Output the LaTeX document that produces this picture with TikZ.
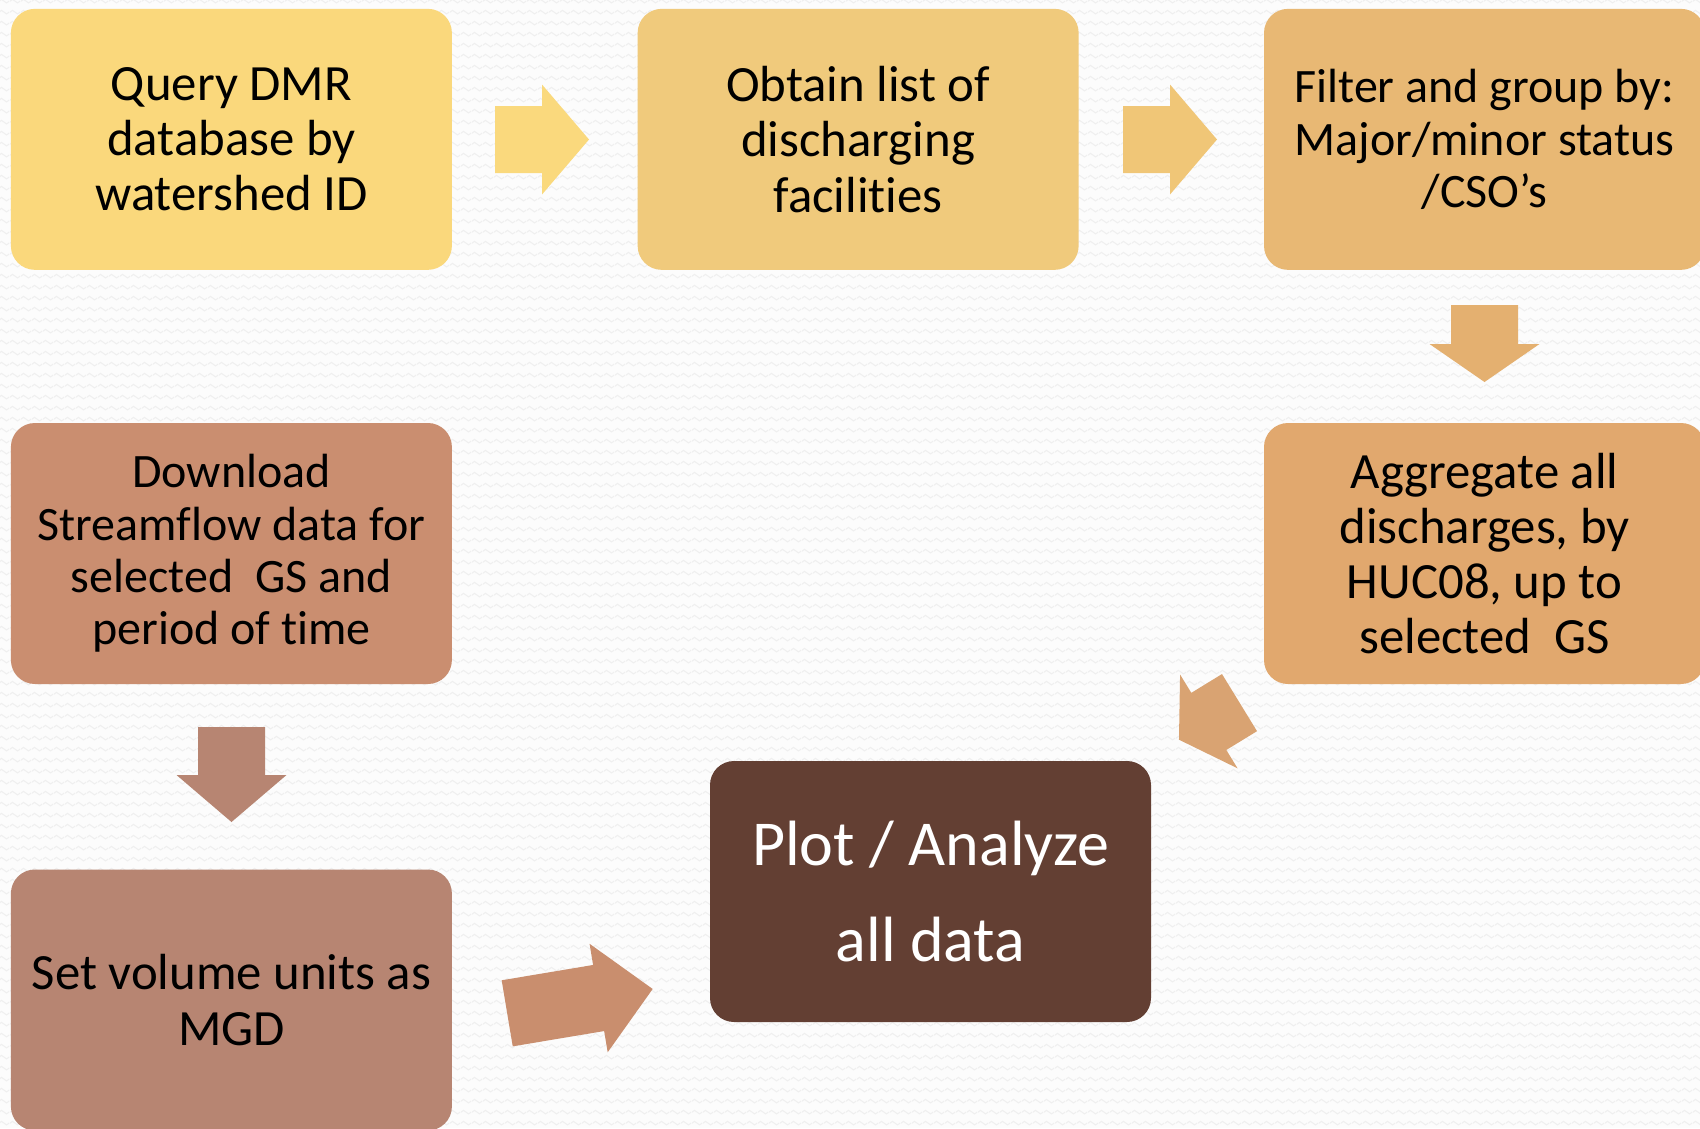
\documentclass[tikz,border=0pt]{standalone}
\usepackage{fontspec}
\setmainfont[Ligatures=NoCommon]{Carlito}
\usetikzlibrary{patterns}

\definecolor{bgbase}{HTML}{FCFCFC}
\definecolor{bgline}{HTML}{EFEFEF}
\definecolor{cQuery}{HTML}{FAD87C}
\definecolor{cObtain}{HTML}{F0CA7C}
\definecolor{cFilter}{HTML}{E8B874}
\definecolor{cAggr}{HTML}{E1A86E}
\definecolor{cDown}{HTML}{CA8E70}
\definecolor{cUnits}{HTML}{B78572}
\definecolor{cPlot}{HTML}{633F33}
\definecolor{aOne}{HTML}{FAD97D}
\definecolor{aTwo}{HTML}{F0C677}
\definecolor{aThree}{HTML}{E4B070}
\definecolor{aFour}{HTML}{D9A372}
\definecolor{aFive}{HTML}{B78572}
\definecolor{aSix}{HTML}{C98E6E}

% one period of the faint wavy background texture
\pgfdeclarepatternformonly{bgwaves}{\pgfpoint{0pt}{0pt}}{\pgfpoint{11pt}{10.7pt}}{\pgfpoint{11pt}{10.7pt}}{
  \pgfsetlinewidth{1.1pt}
  \pgfpathmoveto{\pgfpoint{0pt}{5pt}}
  \pgfpathcurveto{\pgfpoint{1.83pt}{7.4pt}}{\pgfpoint{3.67pt}{7.4pt}}{\pgfpoint{5.5pt}{5pt}}
  \pgfpathcurveto{\pgfpoint{7.33pt}{2.6pt}}{\pgfpoint{9.17pt}{2.6pt}}{\pgfpoint{11pt}{5pt}}
  \pgfusepath{stroke}
}

\tikzset{
  stepbox/.style={rounded corners=24pt, minimum width=441pt, minimum height=261pt,
    inner sep=0pt, align=center, text=black,
    font=\fontsize{50.8}{55.3}\selectfont},
  smalltext/.style={font=\fontsize{48}{52.4}\selectfont},
  % block arrow pointing along +x, anchored at the middle of its tail
  pics/blockarrow/.style 2 args={code={
    \fill[pic actions] (0,-33.5) -- (#1,-33.5) -- (#1,-55) -- ({#1+#2},0)
      -- (#1,55) -- (#1,33.5) -- (0,33.5) -- cycle;
  }}
}

\begin{document}
\begin{tikzpicture}[x=1pt, y=1pt]
  \useasboundingbox (0,0) rectangle (1700,-1128);
  \clip (0,0) rectangle (1700,-1128);

  % textured background
  \fill[bgbase] (0,0) rectangle (1700,-1128);
  \fill[pattern=bgwaves, pattern color=bgline] (0,0) rectangle (1700,-1128);

  % process steps
  \node[stepbox, fill=cQuery]  (query)  at (231.4,-139.35)
    {Query DMR\\database by\\watershed ID};
  \node[stepbox, fill=cObtain] (obtain) at (858.15,-139.35)
    {Obtain list of\\discharging\\facilities};
  \node[stepbox, smalltext, fill=cFilter] (filter) at (1484.5,-139.35)
    {Filter and group by:\\Major/minor status\\/CSO’s};
  \node[stepbox, fill=cAggr]   (aggr)   at (1484.5,-553.5)
    {Aggregate all\\discharges, by\\HUC08, up to\\selected~~GS};
  \node[stepbox, smalltext, fill=cDown] (down) at (231.4,-553.5)
    {Download\\Streamflow data for\\selected~~GS and\\period of time};
  \node[stepbox, fill=cUnits]  (units)  at (231.4,-1000)
    {Set volume units as\\MGD};
  \node[stepbox, fill=cPlot, text=white,
        font=\fontsize{64}{96.5}\selectfont] (plot) at (930.5,-891.5)
    {Plot / Analyze\\all data};

  % block arrows between the steps
  \pic[fill=aOne]               at (495,-139.5)      {blockarrow={47}{47}};
  \pic[fill=aTwo]               at (1123,-139.5)     {blockarrow={47}{47}};
  \pic[fill=aThree, rotate=-90] at (1484.5,-305)     {blockarrow={39}{38}};
  \pic[fill=aFour, rotate=211.5] at (1239.5,-702.6)  {blockarrow={36}{35}};
  \pic[fill=aFive, rotate=-90]  at (231.5,-727)      {blockarrow={48}{47}};
  \pic[fill=aSix, rotate=9.5]   at (507.2,-1013.3)   {blockarrow={92.7}{54.8}};
\end{tikzpicture}
\end{document}
